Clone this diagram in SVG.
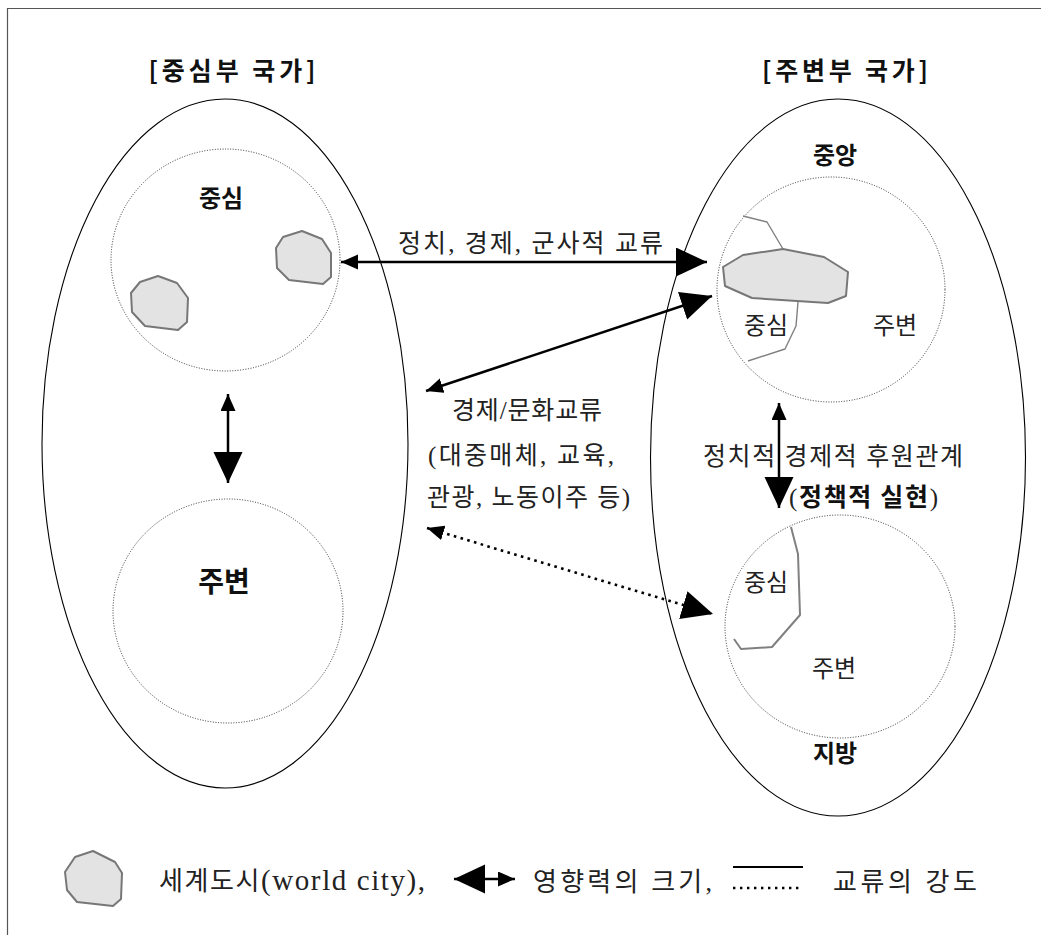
<svg xmlns="http://www.w3.org/2000/svg" width="1041" height="935" viewBox="0 0 1041 935">
  <style>
    .frame { stroke: #555; stroke-width: 1.2; fill: none; }
    .country { fill: none; stroke: #000; stroke-width: 1.1; }
    .zone { fill: none; stroke: #333; stroke-width: 1; stroke-dasharray: 1 1.6; }
    .city { fill: #e3e3e3; stroke: #777; stroke-width: 2; stroke-linejoin: round; }
    .border { fill: none; stroke: #808080; stroke-width: 1.4; stroke-linejoin: round; }
    .border-thick { fill: none; stroke: #808080; stroke-width: 2; stroke-linejoin: round; }
    .title { font-family: "Noto Sans CJK KR", "Noto Sans", sans-serif; font-weight: bold; font-size: 25px; fill: #111; text-anchor: middle; }
    .label-b { font-family: "Noto Sans CJK KR", "Noto Sans", sans-serif; font-weight: bold; font-size: 24px; fill: #111; text-anchor: middle; }
    .label { font-family: "Liberation Serif", "Noto Sans CJK KR", serif; font-size: 24px; fill: #222; text-anchor: middle; }
    .note { font-family: "Liberation Serif", "Noto Sans CJK KR", serif; font-size: 25px; fill: #222; text-anchor: middle; }
    .legend-text { font-family: "Liberation Serif", "Noto Sans CJK KR", serif; font-size: 26px; fill: #222; text-anchor: middle; }
    .bold-kr { font-family: "Noto Sans CJK KR", sans-serif; font-weight: bold; fill: #111; }
    .latin { font-family: "Liberation Serif", serif; font-size: 29px; }
    .flow { fill: none; stroke: #000; stroke-width: 2.5; }
    .flow-dot { fill: none; stroke: #000; stroke-width: 2.6; stroke-dasharray: 2.6 4.4; }
  </style>
  <defs>
    <marker id="head-big" markerUnits="userSpaceOnUse" markerWidth="32" markerHeight="30" refX="31" refY="14.5" orient="auto-start-reverse" viewBox="0 0 32 30">
      <path d="M0,0 L31,14.5 L0,29 Z" fill="#000"/>
    </marker>
    <marker id="head-small" markerUnits="userSpaceOnUse" markerWidth="18" markerHeight="16" refX="17" refY="7.5" orient="auto-start-reverse" viewBox="0 0 18 16">
      <path d="M0,0 L17,7.5 L0,15 Z" fill="#000"/>
    </marker>
  </defs>

  <rect width="1041" height="935" fill="#fff"/>
  <path class="frame" d="M7.5,935 V8.5 H1041"/>

  <!-- core country -->
  <g id="core-country">
    <ellipse class="country" cx="225" cy="443.5" rx="183" ry="344.5"/>
    <text class="title" x="232" y="80" textLength="167" lengthAdjust="spacing">[중심부 국가]</text>
  </g>

  <g id="core-center">
    <ellipse class="zone" cx="225.5" cy="260" rx="114.5" ry="111"/>
    <text class="label-b" x="221" y="207">중심</text>
    <polygon class="city" points="276,248 283,237 302,231 322,239 331,253 331,277 323,284 289,280 277,268"/>
    <polygon class="city" points="131,293 140,282 158,276 177,283 188,298 187,322 178,330 145,326 132,312"/>
  </g>

  <g id="core-periphery">
    <ellipse class="zone" cx="228" cy="611" rx="115" ry="112"/>
    <text class="label-b" x="224" y="592" style="font-size:28px">주변</text>
  </g>

  <!-- periphery country -->
  <g id="periphery-country">
    <ellipse class="country" cx="838" cy="457.5" rx="187.5" ry="358.5"/>
    <text class="title" x="845" y="80" textLength="166" lengthAdjust="spacing">[주변부 국가]</text>
  </g>

  <g id="periphery-capital">
    <text class="label-b" x="835" y="164">중앙</text>
    <ellipse class="zone" cx="831" cy="289.5" rx="114" ry="112.5"/>
    <polyline class="border" points="743,216 767,222 783,249"/>
    <polyline class="border" points="798,302 796,326 785,349 748,361"/>
    <polygon class="city" points="723,267 743,255 783,249 824,257 848,272 846,296 828,303 752,298 725,286"/>
    <text class="label" x="766" y="334">중심</text>
    <text class="label" x="895" y="334">주변</text>
  </g>

  <g id="periphery-region">
    <ellipse class="zone" cx="840" cy="626.5" rx="115" ry="111.5"/>
    <polyline class="border-thick" points="791,527 798,554 800,615 772,647 741,649 734,639"/>
    <text class="label" x="766" y="591">중심</text>
    <text class="label" x="834" y="677">주변</text>
    <text class="label-b" x="835" y="762">지방</text>
  </g>

  <!-- connectors -->
  <g id="connectors">
    <line class="flow" x1="341" y1="262" x2="707" y2="262" marker-start="url(#head-small)" marker-end="url(#head-big)"/>
    <line class="flow" x1="426" y1="391" x2="712" y2="296" marker-start="url(#head-small)" marker-end="url(#head-big)"/>
    <line class="flow-dot" x1="427" y1="528" x2="713" y2="614" marker-start="url(#head-small)" marker-end="url(#head-big)"/>
    <line class="flow" x1="228" y1="394" x2="228" y2="483" marker-start="url(#head-small)" marker-end="url(#head-big)"/>
    <line class="flow" x1="779" y1="403" x2="779" y2="508" marker-start="url(#head-small)" marker-end="url(#head-big)"/>
  </g>

  <!-- connector labels -->
  <g id="connector-labels">
    <text class="note" x="530.5" y="252" textLength="265" lengthAdjust="spacing">정치, 경제, 군사적 교류</text>
    <text class="note" x="527" y="419" textLength="150" lengthAdjust="spacing">경제/문화교류</text>
    <text class="note" x="521" y="464" textLength="186" lengthAdjust="spacing">(대중매체, 교육,</text>
    <text class="note" x="528.5" y="506" textLength="203" lengthAdjust="spacing">관광, 노동이주 등)</text>
    <text class="note" x="833" y="465" textLength="260" lengthAdjust="spacing">정치적 경제적 후원관계</text>
    <text class="note" x="863.5" y="506" textLength="149" lengthAdjust="spacing">(<tspan class="bold-kr">정책적 실현</tspan>)</text>
  </g>

  <!-- legend -->
  <g id="legend">
    <polygon class="city" points="65,872 75,857 93,851 115,862 122,873 121,899 113,906 77,902 67,890"/>
    <text class="legend-text" x="292" y="890" textLength="266" lengthAdjust="spacing">세계도시<tspan class="latin">(world city),</tspan></text>
    <line class="flow" x1="454" y1="879" x2="515" y2="879" marker-start="url(#head-big)" marker-end="url(#head-small)"/>
    <text class="legend-text" x="622.5" y="891" textLength="179" lengthAdjust="spacing">영향력의 크기,</text>
    <line x1="733" y1="867" x2="803" y2="867" stroke="#000" stroke-width="2.2"/>
    <line x1="733" y1="888" x2="803" y2="888" stroke="#000" stroke-width="2.4" stroke-dasharray="2.4 4.6"/>
    <text class="legend-text" x="905" y="891" textLength="144" lengthAdjust="spacing">교류의 강도</text>
  </g>
</svg>
